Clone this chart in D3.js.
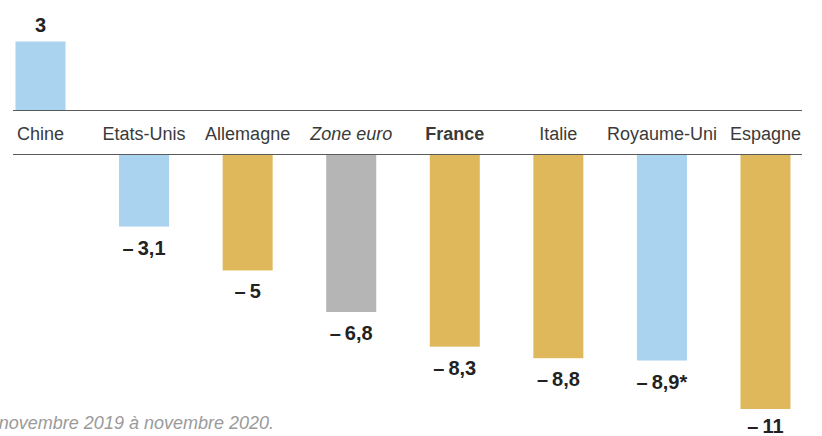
<!DOCTYPE html>
<html>
<head>
<meta charset="utf-8">
<script src="https://cdn.jsdelivr.net/npm/d3@7/dist/d3.min.js"></script>
<style>
  html, body { margin: 0; padding: 0; background: #fff; }
  svg { display: block; }
</style>
</head>
<body>
<svg id="chart" width="822" height="436"></svg>
<script>
// Croissance du PIB, en %
const countries = ["Chine", "Etats-Unis", "Allemagne", "Zone euro", "France", "Italie", "Royaume-Uni", "Espagne"];
const growth    = [3, -3.1, -5, -6.8, -8.3, -8.8, -8.9, -11];
const valueText = ["3", "–\u20093,1", "–\u20095", "–\u20096,8", "–\u20098,3", "–\u20098,8", "–\u20098,9*", "–\u200911"];
const groups    = ["asie", "amerique", "europe", "zone", "europe", "europe", "amerique", "europe"];
const footnote  = "novembre 2019 à novembre 2020.";

const palette = { asie: "#a9d3ee", amerique: "#a9d3ee", europe: "#e0b85c", zone: "#b5b5b5" };

const svg = d3.select("#chart");

const topRule = 110, bottomRule = 154;

const x = d3.scaleBand()
  .domain(countries)
  .range([15.5, 790.5])
  .paddingInner(0.517)
  .paddingOuter(0);

// positive bars grow up from the top rule, negative ones down from the bottom rule
const yUp = d3.scaleLinear().domain([0, 3]).range([topRule, topRule - 68.5]);
const yDown = d3.scaleLinear().domain([0, -11]).range([bottomRule + 1, 409]);

const data = countries.map((c, i) => ({ c, v: growth[i], label: valueText[i], g: groups[i] }));

svg.append("g")
  .selectAll("rect")
  .data(data)
  .join("rect")
  .attr("x", d => x(d.c))
  .attr("width", x.bandwidth())
  .attr("y", d => d.v >= 0 ? yUp(d.v) : yDown(0))
  .attr("height", d => d.v >= 0 ? yUp(0) - yUp(d.v) : yDown(d.v) - yDown(0))
  .attr("fill", d => palette[d.g]);

// rules framing the country names
[topRule, bottomRule].forEach(yy => {
  svg.append("line")
    .attr("x1", 13).attr("x2", 802)
    .attr("y1", yy + 0.5).attr("y2", yy + 0.5)
    .attr("stroke", "#5a5a5a")
    .attr("stroke-width", 1.2);
});

// country names
svg.append("g")
  .selectAll("text")
  .data(data)
  .join("text")
  .attr("x", d => x(d.c) + x.bandwidth() / 2)
  .attr("y", 140)
  .attr("text-anchor", "middle")
  .attr("font-family", "'Liberation Sans', Arial, sans-serif")
  .attr("font-size", 18)
  .attr("fill", "#3a3a3a")
  .attr("font-weight", d => d.c === "France" ? "bold" : "normal")
  .attr("font-style", d => d.c === "Zone euro" ? "italic" : "normal")
  .text(d => d.c);

// value labels (kept inside the bottom edge)
svg.append("g")
  .selectAll("text")
  .data(data)
  .join("text")
  .attr("x", d => x(d.c) + x.bandwidth() / 2)
  .attr("y", d => d.v >= 0 ? yUp(d.v) - 10 : Math.min(yDown(d.v) + 28, 433))
  .attr("text-anchor", "middle")
  .attr("font-family", "'Liberation Sans', Arial, sans-serif")
  .attr("font-size", 20)
  .attr("font-weight", "bold")
  .attr("fill", "#222")
  .text(d => d.label);

// source note
svg.append("text")
  .attr("x", 274)
  .attr("y", 429)
  .attr("text-anchor", "end")
  .attr("font-family", "'Liberation Sans', Arial, sans-serif")
  .attr("font-size", 18)
  .attr("font-style", "italic")
  .attr("fill", "#9a9a9a")
  .text(footnote);
</script>
</body>
</html>
